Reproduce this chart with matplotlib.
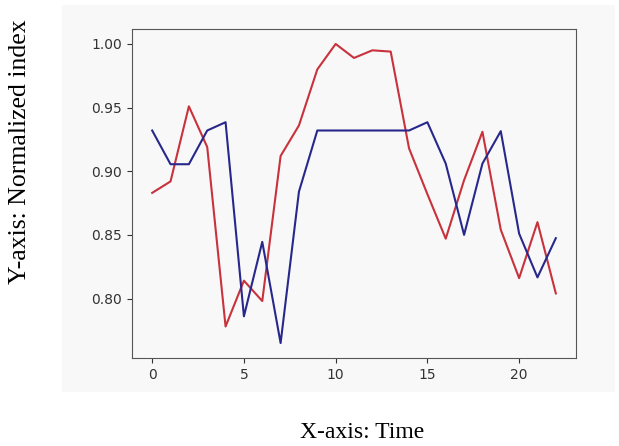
import matplotlib
matplotlib.use("Agg")
import matplotlib.pyplot as plt
from matplotlib.patches import Rectangle

time = list(range(23))

red_index = [0.883, 0.892, 0.951, 0.919, 0.778, 0.814, 0.798, 0.912, 0.936, 0.980,
             1.000, 0.989, 0.995, 0.994, 0.918, 0.882, 0.847, 0.893, 0.931, 0.854,
             0.816, 0.860, 0.804]

blue_index = [0.932, 0.9055, 0.9055, 0.932, 0.9385, 0.786, 0.8445, 0.765, 0.884, 0.932,
              0.932, 0.932, 0.932, 0.932, 0.932, 0.9385, 0.906, 0.850, 0.906, 0.9315,
              0.851, 0.8166, 0.8474]

panel = "#f8f8f8"

fig = plt.figure(figsize=(6.19, 4.46), dpi=100)
fig.patch.set_facecolor("white")

# light grey backdrop of the embedded plot
fig.patches.append(Rectangle((62 / 619, 1 - 392 / 446), (615 - 62) / 619, (392 - 5) / 446,
                             transform=fig.transFigure, facecolor=panel, edgecolor="none", zorder=-1))

ax = fig.add_axes([132 / 619, 1 - 358 / 446, (576 - 132) / 619, (358 - 29) / 446])
ax.set_zorder(1)
ax.set_facecolor(panel)

ax.plot(time, red_index, color="#c8323c", linewidth=1.5)
ax.plot(time, blue_index, color="#28288c", linewidth=1.5)

ax.set_xticks([0, 5, 10, 15, 20])
ax.set_yticks([0.80, 0.85, 0.90, 0.95, 1.00])
ax.tick_params(colors="#333333", labelsize=10)
for s in ax.spines.values():
    s.set_color("#555555")

fig.text(20 / 619, 1 - 152 / 446, "Y-axis: Normalized index", rotation=90,
         ha="center", va="center", family="Liberation Serif", fontsize=18.5)
fig.text(362 / 619, 1 - 432 / 446, "X-axis: Time",
         ha="center", va="center", family="Liberation Serif", fontsize=17)

fig.savefig("out.png", dpi=100)
